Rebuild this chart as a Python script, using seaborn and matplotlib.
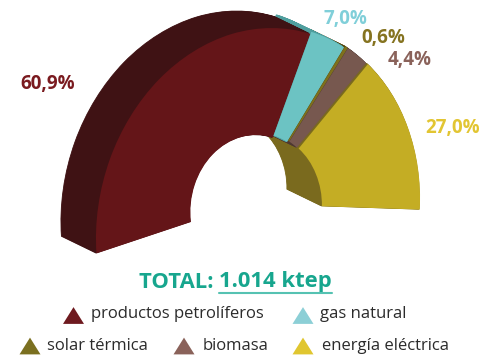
import numpy as np
import pandas as pd
import matplotlib
matplotlib.use("Agg")
import matplotlib.pyplot as plt
import matplotlib.colors as mcolors
from matplotlib.transforms import Affine2D, Transform
from matplotlib.path import Path
import seaborn as sns

# ---------------- data ----------------
categories = ["productos petrolíferos", "gas natural", "solar térmica", "biomasa", "energía eléctrica"]
shares = [60.9, 7.0, 0.6, 4.4, 27.0]
share_labels = ["60,9%", "7,0%", "0,6%", "4,4%", "27,0%"]
face_colors = ["#641518", "#6cc3c3", "#7e701c", "#77584f", "#c4ad24"]
side_colors_list = ["#3f1214", "#4f9e9e", "#55490f", "#4e3832", "#7a6a1e"]
label_colors = ["#7a1a1f", "#80cfd9", "#857320", "#8a625a", "#e2c532"]
legend_colors = ["#6e1a1f", "#8ccfd6", "#7b7020", "#8a625a", "#e0c630"]
total_prefix = "TOTAL: "
total_value = "1.014 ktep"

# ---------------- style ----------------
sns.set_theme(style="white")
plt.rcParams["font.family"] = ["Open Sans", "DejaVu Sans"]

W, H = 500, 362
fig = plt.figure(figsize=(W / 100, H / 100), dpi=100)
ax = fig.add_axes([0, 0, 1, 1])

R_IN = 0.43
# perspective-like mapping of the unit donut to pixel space (y up):
# outer and inner rims are separate ellipses, interpolated radially
C_OUT = np.array([256.0, 142.0])
M_OUT = np.array([[159.8, 8.5], [8.5, 191.8]])
C_IN = np.array([254.2, 151.9])
M_IN = np.array([[63.8, 0.0], [2.1, 75.0]])


class RingTransform(Transform):
    input_dims = 2
    output_dims = 2
    is_separable = False
    has_inverse = False

    def transform_non_affine(self, values):
        v = np.atleast_2d(np.asarray(values, float))
        r = np.hypot(v[:, 0], v[:, 1])
        rs = np.where(r == 0, 1.0, r)
        d = v / rs[:, None]
        t = ((r - R_IN) / (1 - R_IN))[:, None]
        p_out = C_OUT + d @ M_OUT.T
        p_in = C_IN + d @ M_IN.T
        return p_in + t * (p_out - p_in)

    def transform_path_non_affine(self, path):
        return Path(self.transform_non_affine(path.vertices), path.codes)


ring = RingTransform()

span = 187.5
start = 187.5
total = sum(shares)
dummy = total * (360.0 / span - 1.0)
vals = shares + [dummy]

side_colors = side_colors_list + ["none"]
front_colors = face_colors + ["none"]
explode = [0, 0.012, 0.02, 0.02, 0.025, 0]

depth = np.array([-35.0, 17.0])
N = 45
for k in range(N, 0, -1):
    shift = Affine2D().translate(depth[0] * k / N, depth[1] * k / N)
    wedges, _ = ax.pie(vals, colors=side_colors, startangle=start, counterclock=False,
                       radius=1, center=(0, 0), explode=explode,
                       wedgeprops=dict(width=1 - R_IN, linewidth=0.6))
    for w, col in zip(wedges, side_colors):
        w.set_edgecolor(col)
        w.set_transform(ring + shift + ax.transData)

wedges, _ = ax.pie(vals, colors=front_colors, startangle=start, counterclock=False,
                   radius=1, center=(0, 0), explode=explode,
                   wedgeprops=dict(width=1 - R_IN, linewidth=0))
for w in wedges:
    w.set_transform(ring + ax.transData)
ax.set_aspect("auto")
ax.set_xlim(0, W)
ax.set_ylim(0, H)
ax.axis("off")

# overlay in pixel coords (y down)
ov = fig.add_axes([0, 0, 1, 1])
ov.patch.set_alpha(0)

label_pos = [(48, 84), (345, 19), (383, 38), (410, 60), (453, 128)]
for (x, y), t, col in zip(label_pos, share_labels, label_colors):
    ov.text(x, y, t, color=col, fontsize=13.5, fontweight="bold",
            ha="center", va="center")

# legend markers via seaborn
leg_marker = [(73.5, 315.5), (303, 315.5), (30, 346), (184, 346), (303, 346)]
leg_text = [(91, 314), (320, 314), (47, 346), (203, 346), (322, 346)]
tri = [(-1, -0.8), (1, -0.8), (0, 0.8)]
df = pd.DataFrame({"x": [p[0] for p in leg_marker], "y": [p[1] for p in leg_marker],
                   "cat": categories})
sns.scatterplot(data=df, x="x", y="y", hue="cat", palette=legend_colors, marker=tri,
                s=228, linewidth=0, legend=False, ax=ov)
ov.set_xlim(0, W)
ov.set_ylim(H, 0)
ov.axis("off")
for (x, y), t in zip(leg_text, categories):
    ov.text(x, y, t, color="#2b2b2b", fontsize=12, ha="left", va="center")

# total
teal = "#17a68e"
t1 = ov.text(139, 282, total_prefix, color=teal, fontsize=15.8, fontweight="bold",
             ha="left", va="center")
fig.canvas.draw()
r = fig.canvas.get_renderer()
bb = t1.get_window_extent(r)
x2 = bb.x1 * 100 / fig.dpi
t2 = ov.text(x2, 282, total_value, color=teal, fontsize=15.8, fontweight="bold",
             ha="left", va="center")
fig.canvas.draw()
bb2 = t2.get_window_extent(r)
ov.plot([bb2.x0 * 100 / fig.dpi, bb2.x1 * 100 / fig.dpi], [292.5, 292.5], color="#55c2b2", lw=1.5)
ov.set_xlim(0, W)
ov.set_ylim(H, 0)

fig.savefig("out.png", dpi=100)
